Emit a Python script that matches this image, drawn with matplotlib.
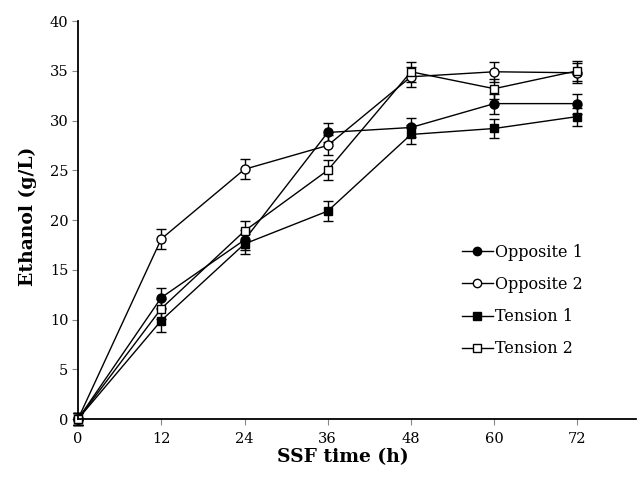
import matplotlib
matplotlib.use("Agg")
import matplotlib.pyplot as plt
from matplotlib.lines import Line2D

time_h = [0, 12, 24, 36, 48, 60, 72]
opposite1 = [0, 12.2, 18.0, 28.8, 29.3, 31.7, 31.7]
opposite2 = [0, 18.1, 25.1, 27.5, 34.4, 34.9, 34.8]
tension1 = [0, 9.9, 17.6, 20.9, 28.6, 29.2, 30.4]
tension2 = [0, 11.1, 18.9, 25.0, 34.9, 33.2, 35.0]
err_o1 = [0.6, 1.0, 1.0, 1.0, 1.0, 1.0, 1.0]
err_o2 = [0.6, 1.0, 1.0, 1.0, 1.0, 1.0, 1.0]
err_t1 = [0.6, 1.2, 1.0, 1.0, 1.0, 1.0, 0.9]
err_t2 = [0.6, 1.0, 1.0, 1.0, 1.0, 1.0, 1.0]
labels = ["Opposite 1", "Opposite 2", "Tension 1", "Tension 2"]
xticks = [0, 12, 24, 36, 48, 60, 72]
yticks = [0, 5, 10, 15, 20, 25, 30, 35, 40]

plt.rcParams['font.family'] = ['DejaVu Serif']

fig = plt.figure(figsize=(6.37, 4.78), dpi=100)
ax = fig.add_axes([0.1225, 0.1234, 0.8755, 0.8326])

series = [
    (opposite1, err_o1, 'o', 'black'),
    (opposite2, err_o2, 'o', 'white'),
    (tension1, err_t1, 's', 'black'),
    (tension2, err_t2, 's', 'white'),
]
for (vals, err, mk, fc), lab in zip(series, labels):
    ax.errorbar(time_h, vals, yerr=err, color='black', lw=1.0,
                marker=mk, markersize=6.5 if mk == 'o' else 6.2,
                markerfacecolor=fc, markeredgecolor='black', markeredgewidth=1.0,
                capsize=3.5, elinewidth=1.0, capthick=1.0, label=lab, clip_on=False)

ax.set_xlim(0, 80.4)
ax.set_ylim(0, 40)
ax.set_xticks(xticks)
ax.set_yticks(yticks)
for s in ['top', 'right']:
    ax.spines[s].set_visible(False)
ax.spines['left'].set_linewidth(1.3)
ax.spines['bottom'].set_linewidth(1.3)
ax.tick_params(axis='y', direction='out', length=4, width=0.8, color='#888888', pad=3)
ax.tick_params(axis='x', direction='out', length=4, width=0.8, color='#888888', pad=5)
for t in ax.get_xticklabels() + ax.get_yticklabels():
    t.set_fontsize(10.5)
    t.set_color('black')

ax.set_xlabel("SSF time (h)", fontsize=13.5, fontweight='bold', labelpad=2)
ax.xaxis.label.set_x(0.475)
ax.set_ylabel("Ethanol (g/L)", fontsize=13.5, fontweight='bold', labelpad=9)
ax.yaxis.label.set_y(0.51)

leg_handles = [Line2D([], [], color='black', lw=1.0, marker=mk,
                      markersize=6 if mk == 'o' else 5.5,
                      markerfacecolor=fc, markeredgecolor='black')
               for (_, _, mk, fc) in series]
leg = ax.legend(leg_handles, labels, loc='upper left', bbox_to_anchor=(0.703, 0.52),
                bbox_transform=fig.transFigure, frameon=False, fontsize=11.5,
                handlelength=1.9, handletextpad=0.15, labelspacing=0.95)
for t in leg.get_texts():
    t.set_color('black')

fig.savefig("out.png", dpi=100)
